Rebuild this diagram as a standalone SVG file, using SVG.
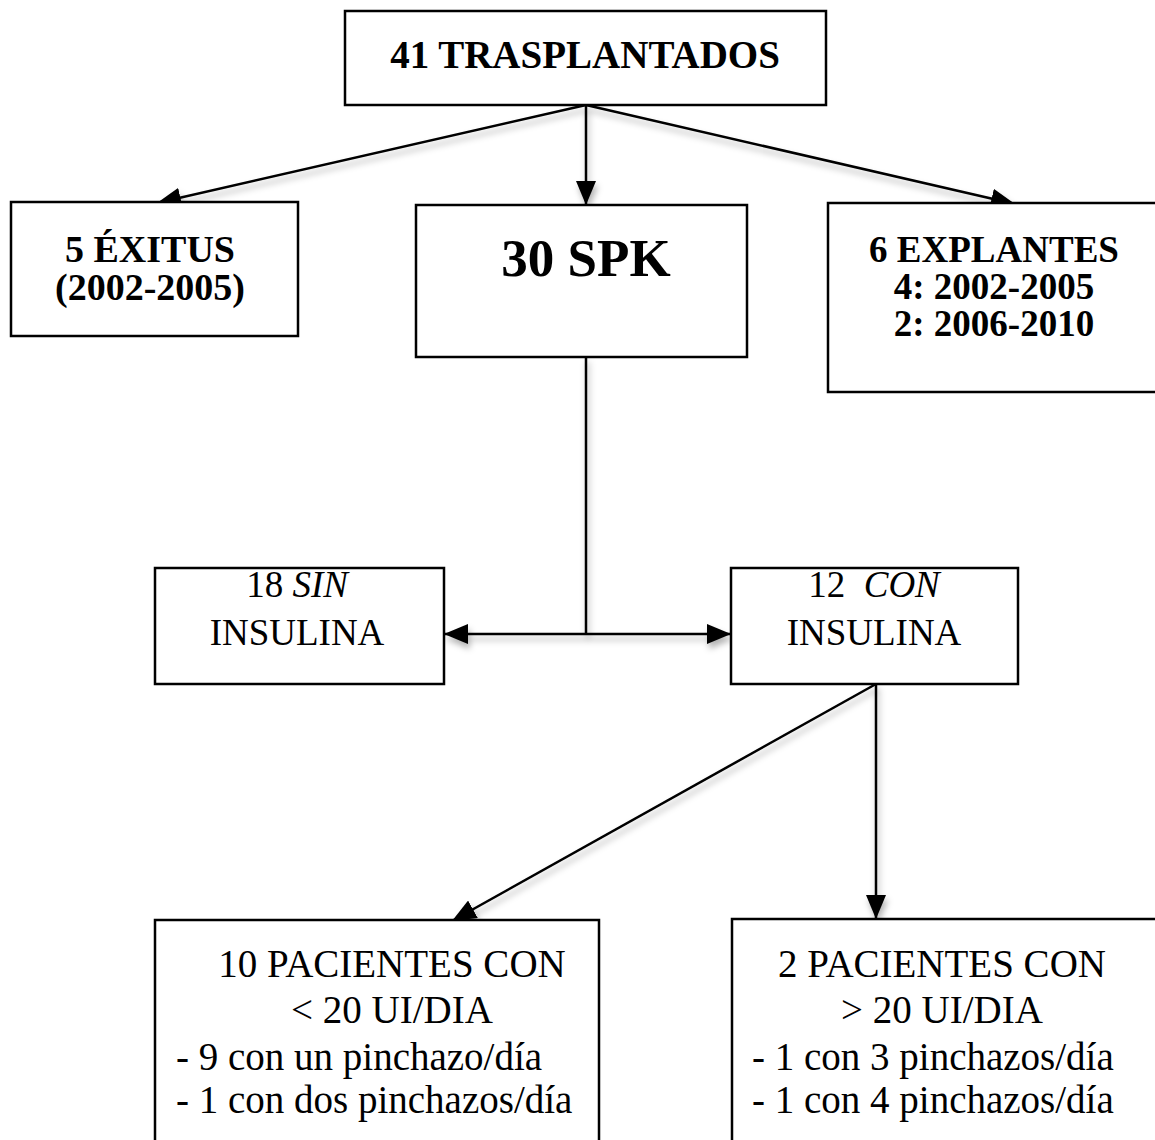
<svg xmlns="http://www.w3.org/2000/svg" width="1155" height="1140" viewBox="0 0 1155 1140">
<style>
.box{fill:#fff;stroke:#000;stroke-width:2.5}
.b{font-family:"Liberation Serif","Times New Roman",serif;font-weight:bold;fill:#000;text-anchor:middle}
.r{font-family:"Liberation Serif","Times New Roman",serif;fill:#000}
.c{text-anchor:middle}
.ln{stroke:#000;stroke-width:2.5;fill:none}
</style>
<defs>
<marker id="ah" viewBox="0 0 24 20" refX="24" refY="10" markerWidth="24" markerHeight="20" markerUnits="userSpaceOnUse" orient="auto-start-reverse">
<path d="M0,0 L24,10 L0,20 z" fill="#000"/>
</marker>
<filter id="sh" x="-10%" y="-10%" width="120%" height="130%">
<feDropShadow dx="2" dy="5" stdDeviation="3" flood-color="#000" flood-opacity="0.3"/>
</filter>
</defs>
<rect width="1155" height="1140" fill="#fff"/>
<g id="connectors" filter="url(#sh)">
<line class="ln" x1="586" y1="105" x2="157" y2="203" marker-end="url(#ah)"/>
<line class="ln" x1="586" y1="105" x2="586" y2="205" marker-end="url(#ah)"/>
<line class="ln" x1="586" y1="105" x2="1015" y2="204" marker-end="url(#ah)"/>
<line class="ln" x1="586" y1="357" x2="586" y2="634"/>
<line class="ln" x1="444" y1="634" x2="731" y2="634" marker-start="url(#ah)" marker-end="url(#ah)"/>
<line class="ln" x1="876" y1="684" x2="452" y2="921" marker-end="url(#ah)"/>
<line class="ln" x1="876" y1="684" x2="876" y2="919" marker-end="url(#ah)"/>
</g>
<g id="n-trasplantados">
<rect class="box" x="345" y="11" width="481" height="94"/>
<text class="b" x="585" y="68" font-size="39">41 TRASPLANTADOS</text>
</g>
<g id="n-exitus">
<rect class="box" x="11" y="202" width="287" height="134"/>
<text class="b" x="150" y="262" font-size="38">5 ÉXITUS</text>
<text class="b" x="150" y="300" font-size="38">(2002-2005)</text>
</g>
<g id="n-spk">
<rect class="box" x="416" y="205" width="331" height="152"/>
<text class="b" x="586" y="276" font-size="53">30 SPK</text>
</g>
<g id="n-explantes">
<rect class="box" x="828" y="203" width="334" height="189"/>
<text class="b" x="994" y="262" font-size="37">6 EXPLANTES</text>
<text class="b" x="994" y="299" font-size="37">4: 2002-2005</text>
<text class="b" x="994" y="336" font-size="37">2: 2006-2010</text>
</g>
<g id="n-sin">
<rect class="box" x="155" y="568" width="289" height="116"/>
<text class="r c" x="297" y="597" font-size="37">18 <tspan font-style="italic">SIN</tspan></text>
<text class="r c" x="297" y="645" font-size="37">INSULINA</text>
</g>
<g id="n-con">
<rect class="box" x="731" y="568" width="287" height="116"/>
<text class="r c" x="874" y="597" font-size="37" xml:space="preserve">12  <tspan font-style="italic">CON</tspan></text>
<text class="r c" x="874" y="645" font-size="37">INSULINA</text>
</g>
<g id="n-menos20">
<rect class="box" x="155" y="920" width="444" height="230"/>
<text class="r c" x="392" y="977" font-size="39">10 PACIENTES CON</text>
<text class="r c" x="392" y="1023" font-size="39">&lt; 20 UI/DIA</text>
<text class="r" x="176" y="1070" font-size="39">- 9 con un pinchazo/día</text>
<text class="r" x="176" y="1113" font-size="39">- 1 con dos pinchazos/día</text>
</g>
<g id="n-mas20">
<rect class="box" x="732" y="919" width="430" height="230"/>
<text class="r c" x="942" y="977" font-size="39">2 PACIENTES CON</text>
<text class="r c" x="942" y="1023" font-size="39">&gt; 20 UI/DIA</text>
<text class="r" x="752" y="1070" font-size="39">- 1 con 3 pinchazos/día</text>
<text class="r" x="752" y="1113" font-size="39">- 1 con 4 pinchazos/día</text>
</g>
</svg>
